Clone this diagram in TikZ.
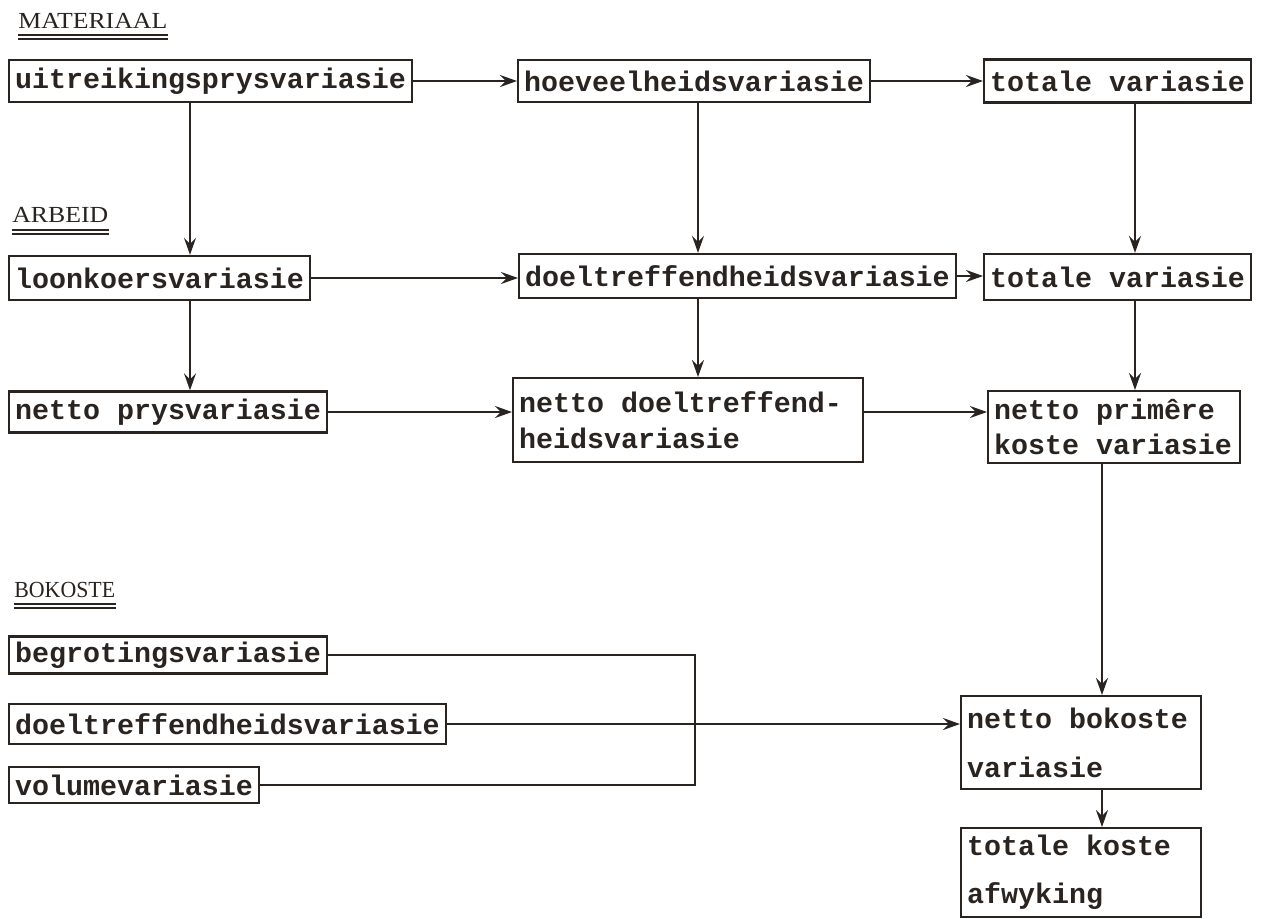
\documentclass[tikz,border=0pt]{standalone}
\usepackage{fontspec}
\newfontfamily\tw{Liberation Mono}
\newfontfamily\hdr[FakeStretch=1.12]{Liberation Serif}
\newfontfamily\hdrn[FakeStretch=0.95]{Liberation Serif}
\usetikzlibrary{arrows.meta}
\definecolor{ink}{RGB}{42,36,33}
\newcommand{\msp}{\hspace*{0.6em}}
\begin{document}
\begin{tikzpicture}[x=0.5pt,y=-0.5pt,
  box/.style={draw=ink, line width=1.2pt, text=ink,
    font=\tw\bfseries\fontsize{14.15}{18}\selectfont,
    inner xsep=3pt, inner ysep=0pt, anchor=west},
  mbox/.style={box, anchor=north west, align=left},
  arr/.style={draw=ink, line width=1pt, -{Stealth[length=8.5pt,width=6pt,inset=3pt]}},
  ln/.style={draw=ink, line width=1pt},
  ul/.style={draw=ink, line width=0.8pt},
  hd/.style={text=ink, font=\hdr\fontsize{11.5}{14}\selectfont, inner sep=0pt, anchor=base west}]
\fill[white] (0,0) rectangle (1266,918);
\useasboundingbox (0,0) rectangle (1266,918);

% headers
\node[hd] (mat) at (18,28) {MATERIAAL};
\draw[ul] ([yshift=-3.5pt]mat.base west) -- ([yshift=-3.5pt]mat.base east);
\draw[ul] ([yshift=-5.5pt]mat.base west) -- ([yshift=-5.5pt]mat.base east);
\node[hd] (arb) at (12,222) {ARBEID};
\draw[ul] ([yshift=-4pt]arb.base west) -- ([yshift=-4pt]arb.base east);
\draw[ul] ([yshift=-6pt]arb.base west) -- ([yshift=-6pt]arb.base east);
\node[hd, font=\hdrn\fontsize{11.5}{14}\selectfont] (bok) at (14,597) {BOKOSTE};
\draw[ul] ([yshift=-3.5pt]bok.base west) -- ([yshift=-3.5pt]bok.base east);
\draw[ul] ([yshift=-5.5pt]bok.base west) -- ([yshift=-5.5pt]bok.base east);

% material row
\node[box, minimum height=21pt] (A) at (8,81) {uitreikingsprysvariasie};
\node[box, minimum height=21pt] (B) at (517,81) {hoeveelheidsvariasie};
\node[box, minimum height=21.5pt] (C) at (983,81) {totale variasie};

% arbeid row
\node[box, minimum height=22pt] (D) at (8,278) {loonkoersvariasie};
\node[box, minimum height=22pt] (E) at (518,276) {doeltreffendheidsvariasie};
\node[box, minimum height=23pt] (F) at (983,277) {totale variasie};

% netto row
\node[box, minimum height=20.5pt] (G) at (8,412) {netto prysvariasie};
\node[mbox, text width=169pt, minimum height=42pt,
  font=\tw\bfseries\fontsize{14.15}{18}\selectfont] (H) at (512,377)
  {netto\msp doeltreffend-\\heidsvariasie};
\node[mbox, text width=120pt, minimum height=36pt,
  font=\tw\bfseries\fontsize{14.15}{17.5}\selectfont] (I) at (987,390)
  {netto\msp prim\^ere\\koste\msp variasie};

% bokoste rows
\node[box, minimum height=18.5pt] (J) at (8,655) {begrotingsvariasie};
\node[box, minimum height=20pt] (K) at (8,724) {doeltreffendheidsvariasie};
\node[box, minimum height=18pt] (L) at (8,785) {volumevariasie};
\node[mbox, text width=114pt, minimum height=46.5pt,
  font=\tw\bfseries\fontsize{14.15}{24.5}\selectfont] (M) at (960,695)
  {netto\msp bokoste\\variasie};
\node[mbox, text width=114pt, minimum height=44.5pt,
  font=\tw\bfseries\fontsize{14.15}{24}\selectfont] (N) at (960,827)
  {totale\msp koste\\afwyking};

% helper coordinates
\coordinate (xa) at (190,0);
\coordinate (xb) at (698,0);
\coordinate (xc) at (1135,0);
\coordinate (xd) at (1102,0);
\coordinate (xk) at (695,0);
\coordinate (yh) at (0,412);

% horizontal arrows
\draw[arr] (A.east) -- (A.east -| B.west);
\draw[arr] (B.east) -- (B.east -| C.west);
\draw[arr] (D.east) -- (D.east -| E.west);
\draw[arr] (E.east) -- (E.east -| F.west);
\draw[arr] (G.east) -- (G.east -| H.west);
\draw[arr] (H.east |- yh) -- (I.west |- yh);
\draw[arr] (K.east) -- (K.east -| M.west);

% vertical arrows
\draw[arr] (A.south -| xa) -- (D.north -| xa);
\draw[arr] (D.south -| xa) -- (G.north -| xa);
\draw[arr] (B.south -| xb) -- (E.north -| xb);
\draw[arr] (E.south -| xb) -- (H.north -| xb);
\draw[arr] (C.south -| xc) -- (F.north -| xc);
\draw[arr] (F.south -| xc) -- (I.north -| xc);
\draw[arr] (I.south -| xd) -- (M.north -| xd);
\draw[arr] (M.south -| xd) -- (N.north -| xd);

% bracket
\draw[ln] (J.east) -- (J.east -| xk) -- (L.east -| xk) -- (L.east);
\end{tikzpicture}
\end{document}
